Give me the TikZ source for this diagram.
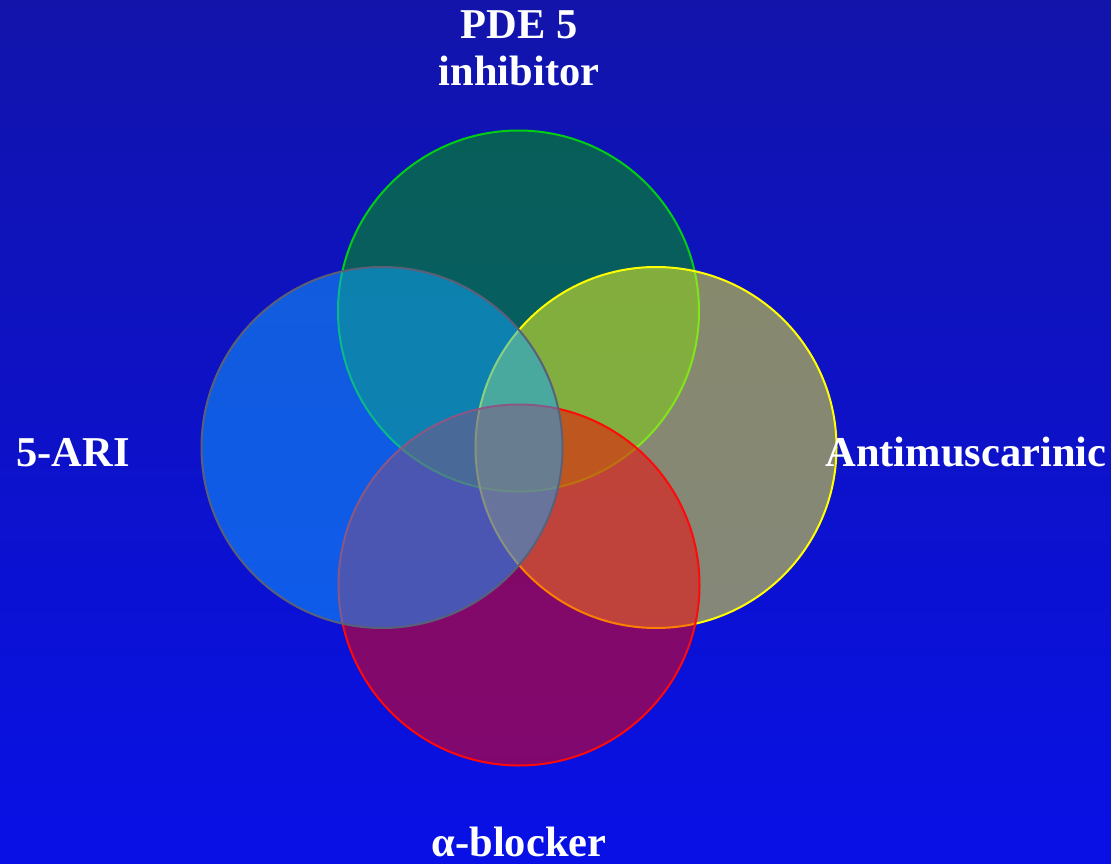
\documentclass[tikz,border=0pt]{standalone}
\usepackage{fontspec}
\setmainfont{Liberation Serif}
\definecolor{bgtop}{RGB}{18,20,170}
\definecolor{bgbot}{RGB}{8,16,230}
\definecolor{cgreen}{RGB}{0,170,0}
\definecolor{cgreenline}{RGB}{0,205,20}
\definecolor{cyellow}{RGB}{255,255,30}
\definecolor{cyellowline}{RGB}{255,255,0}
\definecolor{cred}{RGB}{250,0,0}
\definecolor{credline}{RGB}{255,10,10}
\definecolor{cblue}{RGB}{20,165,255}
\definecolor{cblueline}{RGB}{90,96,120}
\tikzset{
  venn/.style={circle, minimum size=361pt, inner sep=0pt, line width=2pt, fill opacity=0.5, draw opacity=1},
  lbl/.style={text=white, font=\fontsize{42.5}{48}\selectfont\bfseries, anchor=base, inner sep=0pt}
}
\begin{document}
\begin{tikzpicture}[x=1pt,y=-1pt]
\useasboundingbox (0,0) rectangle (1111,864);
\shade[top color=bgtop, bottom color=bgbot] (0,0) rectangle (1111,864);
\node[venn, fill=cgreen, draw=cgreenline] (pde) at (518.5,311) {};
\node[venn, fill=cyellow, draw=cyellowline] (anti) at (656,447.5) {};
\node[venn, fill=cred, draw=credline] (alpha) at (519,585) {};
\node[venn, fill=cblue, draw=cblueline] (ari) at (382,447.5) {};
\node[lbl] (pdeA) at (519,39) {PDE 5};
\node[lbl] (pdeB) at (519,86) {inhibitor};
\node[lbl] (ariL) at (73,466) {5-ARI};
\node[lbl] (antiL) at (966,466) {Antimuscarinic};
\node[lbl] (alphaL) at (519,856) {α-blocker};
\end{tikzpicture}
\end{document}
